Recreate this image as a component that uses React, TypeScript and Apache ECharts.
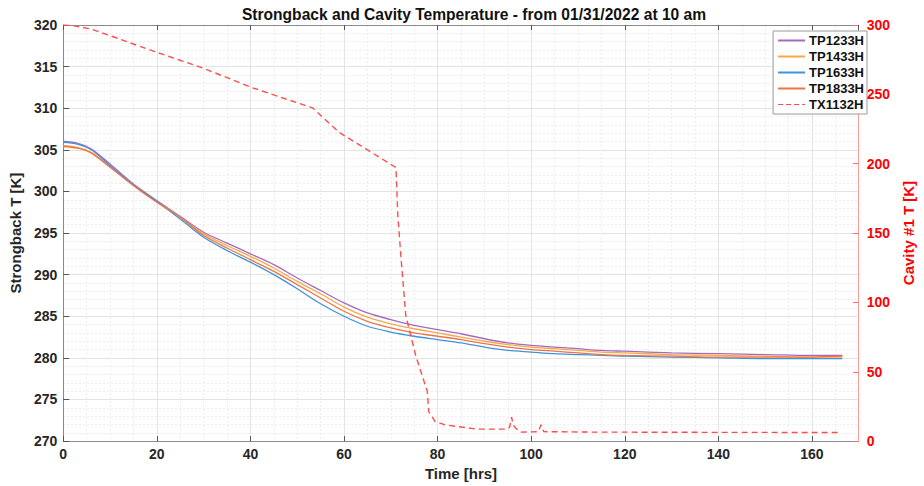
import React, { useEffect, useRef } from "react";
import * as echarts from "echarts";

const hrsSensor = [0, 3, 6, 10, 15, 20, 25, 30, 35, 40, 45, 50, 55, 60, 65, 70, 75, 80, 85, 90, 95, 100, 105, 110, 115, 120, 130, 140, 150, 160, 166.5];
const tp1233 = [306.0, 305.8, 305.1, 303.3, 300.9, 298.9, 297.0, 295.1, 293.8, 292.5, 291.2, 289.6, 288.1, 286.6, 285.4, 284.6, 283.9, 283.4, 282.9, 282.3, 281.8, 281.5, 281.3, 281.1, 280.9, 280.8, 280.6, 280.5, 280.4, 280.3, 280.3];
const tp1433 = [305.5, 305.3, 304.7, 303.0, 300.8, 298.8, 296.9, 294.9, 293.5, 292.2, 290.8, 289.2, 287.7, 286.1, 284.9, 284.1, 283.5, 283.0, 282.5, 282.0, 281.6, 281.3, 281.1, 280.9, 280.7, 280.6, 280.4, 280.3, 280.2, 280.1, 280.1];
const tp1633 = [305.9, 305.7, 305.0, 303.1, 300.8, 298.8, 296.7, 294.5, 292.9, 291.5, 290.0, 288.3, 286.5, 285.0, 283.8, 283.1, 282.6, 282.2, 281.8, 281.3, 280.9, 280.7, 280.5, 280.4, 280.3, 280.2, 280.1, 280.0, 279.9, 279.9, 279.9];
const tp1833 = [305.4, 305.2, 304.6, 302.9, 300.7, 298.7, 296.9, 294.7, 293.2, 291.8, 290.4, 288.8, 287.2, 285.6, 284.4, 283.6, 283.0, 282.6, 282.2, 281.7, 281.3, 281.0, 280.8, 280.6, 280.4, 280.3, 280.2, 280.1, 280.1, 280.1, 280.2];

const hrsCavity = [0, 2, 5.9, 10, 19.9, 29.9, 40.2, 53.3, 59.0, 71.1, 71.5, 72.2, 73.2, 75.3, 77.8, 78.1, 79.5, 81.6, 88.5, 94.8, 95.4, 95.8, 96.2, 96.7, 97.7, 101.5, 102.1, 102.7, 113, 140, 165.7];
const tx1132 = [300, 299.6, 297.1, 292.3, 280.4, 268.9, 255.0, 240.2, 222.5, 197.2, 162.4, 131.3, 90.6, 61.9, 35.7, 21.3, 14.1, 11.7, 8.6, 8.6, 10, 17.2, 11.5, 9.3, 6.5, 6.8, 11.7, 6.8, 6.5, 6.3, 6.2];

const seriesNames = ["TP1233H", "TP1433H", "TP1633H", "TP1833H", "TX1132H"];
const xTicks = { min: 0, max: 170, interval: 20 };
const yLeft = { min: 270, max: 320, interval: 5 };
const yRight = { min: 0, max: 300, interval: 50 };

const FONT = "Liberation Sans, Arial, Helvetica, sans-serif";

export default function App() {
  const ref = useRef<HTMLDivElement>(null);
  useEffect(() => {
    if (!ref.current) return;
    const chart = echarts.init(ref.current, undefined, { renderer: "svg" });
    const pair = (xs: number[], ys: number[]) => xs.map((x, i) => [x, ys[i]]);
    const sensorColors = ["#a46ac0", "#f5a947", "#3f93d8", "#ec7448"];
    const sensorData = [tp1233, tp1433, tp1633, tp1833];
    const axisGray = "#8a8a8a";
    const textDark = "#262626";
    const majorGrid = { show: true, lineStyle: { color: "#e3e3e3", width: 1 } };
    const minorGrid = { show: true, lineStyle: { color: "#ececec", width: 1, type: [2, 2] } };
    const dashIcon = "path://M0,0h5v1h-5zM8,0h5v1h-5zM16,0h5v1h-5zM24,0h3v1h-3z";
    chart.setOption({
      animation: false,
      backgroundColor: "#ffffff",
      textStyle: { fontFamily: FONT },
      title: {
        text: "Strongback and Cavity Temperature - from 01/31/2022 at 10 am",
        left: 469,
        top: 1,
        textAlign: "center",
        textStyle: { fontSize: 15.6, fontWeight: "bold", color: "#111", fontFamily: FONT },
      },
      grid: { left: 60, right: 51, top: 25, bottom: 43, containLabel: false },
      legend: {
        data: seriesNames.map((n, i) => ({ name: n, icon: i === 4 ? dashIcon : "rect" })),
        orient: "vertical",
        right: 57,
        top: 31,
        backgroundColor: "#ffffff",
        borderColor: "#9a9a9a",
        borderWidth: 1,
        borderRadius: 0,
        padding: [2, 3, 2, 5],
        itemWidth: 27,
        itemHeight: 2,
        itemGap: 1,
        textStyle: { fontSize: 13, fontWeight: "bold", color: "#111", fontFamily: FONT, lineHeight: 15, padding: [0, 0, 0, -1] },
      },
      xAxis: [
        {
          type: "value",
          ...xTicks,
          name: "Time [hrs]",
          nameLocation: "middle",
          nameGap: 22,
          nameTextStyle: { fontSize: 15, fontWeight: "bold", color: textDark, fontFamily: FONT },
          axisLine: { show: true, onZero: false, lineStyle: { color: axisGray } },
          axisTick: { show: true, inside: true, length: 5, lineStyle: { color: "#555" } },
          axisLabel: { fontSize: 14, fontWeight: "bold", color: textDark, margin: 6, fontFamily: FONT, showMaxLabel: false },
          splitLine: majorGrid,
          minorTick: { show: false, splitNumber: 4 },
          minorSplitLine: minorGrid,
        },
        {
          type: "value",
          ...xTicks,
          position: "top",
          axisLine: { show: true, onZero: false, lineStyle: { color: axisGray } },
          axisTick: { show: true, inside: true, length: 5, lineStyle: { color: "#555" } },
          axisLabel: { show: false },
          splitLine: { show: false },
        },
      ],
      yAxis: [
        {
          type: "value",
          ...yLeft,
          name: "Strongback T [K]",
          nameLocation: "middle",
          nameGap: 32,
          nameRotate: 90,
          nameTextStyle: { fontSize: 15, fontWeight: "bold", color: textDark, fontFamily: FONT },
          axisLine: { show: true, onZero: false, lineStyle: { color: axisGray } },
          axisTick: { show: true, inside: true, length: 6, lineStyle: { color: "#555" } },
          axisLabel: { fontSize: 14, fontWeight: "bold", color: textDark, margin: 6, fontFamily: FONT },
          splitLine: majorGrid,
          minorTick: { show: false, splitNumber: 5 },
          minorSplitLine: minorGrid,
        },
        {
          type: "value",
          ...yRight,
          position: "right",
          name: "Cavity #1 T [K]",
          nameLocation: "middle",
          nameGap: 38,
          nameRotate: 90,
          nameTextStyle: { fontSize: 15, fontWeight: "bold", color: "#ff0000", fontFamily: FONT },
          axisLine: { show: true, onZero: false, lineStyle: { color: "#ff9a9a" } },
          axisTick: { show: true, inside: true, length: 6, lineStyle: { color: "#ff7070" } },
          axisLabel: { fontSize: 14, fontWeight: "bold", color: "#ff0000", margin: 8, fontFamily: FONT },
          splitLine: { show: false },
        },
      ],
      series: [
        ...sensorData.map((d, i) => ({
          name: seriesNames[i],
          type: "line",
          xAxisIndex: 0,
          yAxisIndex: 0,
          data: pair(hrsSensor, d),
          showSymbol: false,
          symbol: "none",
          smooth: 0.3,
          lineStyle: { color: sensorColors[i], width: 1.3 },
          itemStyle: { color: sensorColors[i] },
        })),
        {
          name: seriesNames[4],
          type: "line",
          xAxisIndex: 0,
          yAxisIndex: 1,
          data: pair(hrsCavity, tx1132),
          showSymbol: false,
          symbol: "none",
          lineStyle: { color: "#ff4d4d", width: 1.4, type: [6, 4] },
          itemStyle: { color: "#ff4d4d" },
          z: 3,
        },
      ],
    });
    return () => chart.dispose();
  }, []);
  return <div ref={ref} style={{ width: 924, height: 486, position: "absolute", left: 0, top: 0 }} />;
}
